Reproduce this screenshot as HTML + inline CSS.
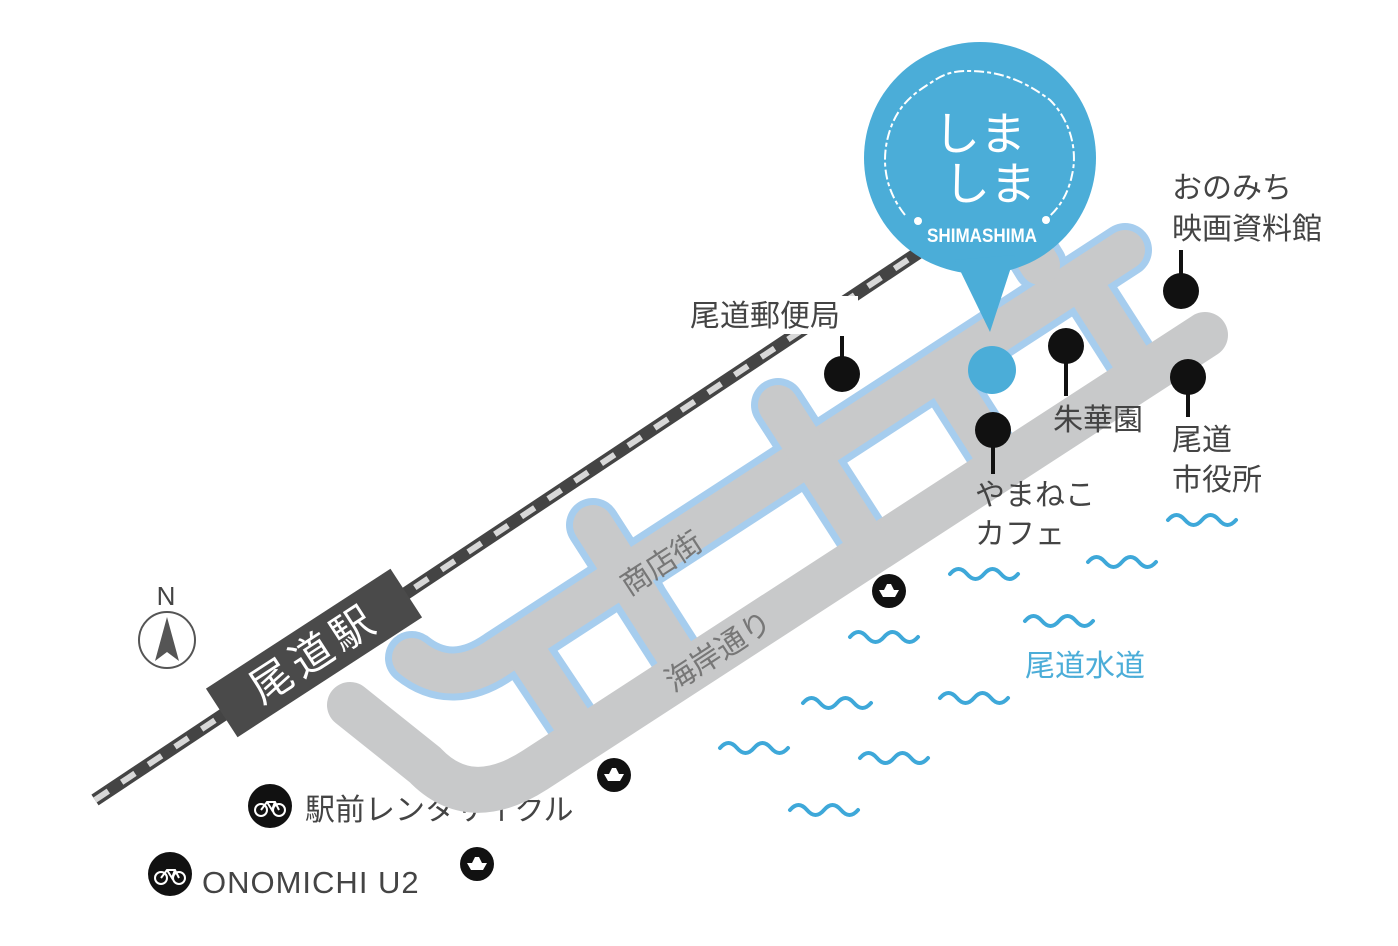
<!DOCTYPE html>
<html><head><meta charset="utf-8"><style>
html,body{margin:0;padding:0;background:#fff;}
svg{display:block;}
text{font-family:"Liberation Sans","Noto Sans CJK JP",sans-serif;}
</style></head><body>
<svg width="1398" height="946" viewBox="0 0 1398 946" xmlns="http://www.w3.org/2000/svg">
<line x1="95" y1="800" x2="918" y2="253" stroke="#444" stroke-width="13"/>
<line x1="95" y1="800" x2="918" y2="253" stroke="#d8d8d8" stroke-width="6" stroke-dasharray="16 16"/>
<g transform="translate(314,653) rotate(-33)">
<rect x="-110" y="-29" width="220" height="58" fill="#4a4a4a"/>
<text x="0" y="15" font-size="42" fill="#fff" text-anchor="middle" letter-spacing="6">尾道駅</text>
</g>
<g fill="#444" font-size="30">
<text x="305" y="820">駅前レンタサイクル</text>
<text x="202" y="893" font-size="31" letter-spacing="1">ONOMICHI U2</text>
</g>
<g fill="none" stroke="#a6cdee" stroke-width="54" stroke-linecap="round" stroke-linejoin="round">
<path d="M1125,250 L500,656 Q452,690 412,658"/>
<path d="M593,525 L640,598"/>
<path d="M778,405 L820,470"/>
<path d="M1040,265 L1022,236"/>
</g>
<g fill="none" stroke="#a6cdee" stroke-width="54" stroke-linecap="butt">
<path d="M593,525 L687,672"/>
<path d="M778,405 L872,551"/>
<path d="M520,643 L584,739"/>
<path d="M940,370 L1002,467"/>
<path d="M1080,279 L1142,376"/>
</g>
<path d="M1205,335 L535,770 Q470,812 425,765 L350,705" fill="none" stroke="#c8c9ca" stroke-width="46" stroke-linecap="round" stroke-linejoin="round"/>
<g fill="none" stroke="#c8c9ca" stroke-width="40" stroke-linecap="round" stroke-linejoin="round">
<path d="M1125,250 L500,656 Q452,690 412,658"/>
<path d="M593,525 L640,598"/>
<path d="M778,405 L820,470"/>
<path d="M1040,265 L1022,236"/>
</g>
<g fill="none" stroke="#c8c9ca" stroke-width="40" stroke-linecap="butt">
<path d="M593,525 L687,672"/>
<path d="M778,405 L872,551"/>
<path d="M520,643 L584,739"/>
<path d="M940,370 L1002,467"/>
<path d="M1080,279 L1142,376"/>
</g>
<text transform="translate(667,572) rotate(-33)" font-size="30" fill="#777" text-anchor="middle">商店街</text>
<text transform="translate(724,660) rotate(-33)" font-size="30" fill="#777" text-anchor="middle">海岸通り</text>
<g fill="none" stroke="#3ea8d9" stroke-width="4" stroke-linecap="round">
<path d="M1168,520 q8.5,-10 17,0 t17,0 t17,0 t17,0"/>
<path d="M1088,562 q8.5,-10 17,0 t17,0 t17,0 t17,0"/>
<path d="M950,574 q8.5,-10 17,0 t17,0 t17,0 t17,0"/>
<path d="M1025,621 q8.5,-10 17,0 t17,0 t17,0 t17,0"/>
<path d="M850,637 q8.5,-10 17,0 t17,0 t17,0 t17,0"/>
<path d="M940,698 q8.5,-10 17,0 t17,0 t17,0 t17,0"/>
<path d="M803,703 q8.5,-10 17,0 t17,0 t17,0 t17,0"/>
<path d="M720,748 q8.5,-10 17,0 t17,0 t17,0 t17,0"/>
<path d="M860,758 q8.5,-10 17,0 t17,0 t17,0 t17,0"/>
<path d="M790,810 q8.5,-10 17,0 t17,0 t17,0 t17,0"/>
</g>
<text x="1025" y="676" font-size="30" fill="#4badd8">尾道水道</text>
<circle cx="980" cy="158" r="116" fill="#4badd8"/>
<path d="M955,260 L990,332 L1015,255 Z" fill="#4badd8"/>
<path d="M905,215 C885,190 880,160 890,130 C900,100 920,90 935,80 C950,70 965,70 985,72 C1010,75 1030,85 1050,100 C1070,120 1078,150 1072,175 C1068,195 1058,210 1045,220" fill="none" stroke="#fff" stroke-width="2" stroke-dasharray="10 3 4 3"/>
<circle cx="918" cy="221" r="4" fill="#fff"/>
<circle cx="1046" cy="220" r="4" fill="#fff"/>
<text x="980" y="150" font-size="46" fill="#fff" text-anchor="middle">しま</text>
<text x="990" y="200" font-size="46" fill="#fff" text-anchor="middle">しま</text>
<text x="982" y="242" font-size="19" fill="#fff" text-anchor="middle" font-weight="bold" textLength="110" lengthAdjust="spacingAndGlyphs">SHIMASHIMA</text>
<circle cx="992" cy="370" r="24" fill="#4badd8"/>
<g stroke="#111" stroke-width="4">
<line x1="842" y1="336" x2="842" y2="374"/>
<line x1="1181" y1="250" x2="1181" y2="291"/>
<line x1="1066" y1="346" x2="1066" y2="396"/>
<line x1="993" y1="430" x2="993" y2="474"/>
<line x1="1188" y1="377" x2="1188" y2="417"/>
</g>
<g fill="#111">
<circle cx="842" cy="374" r="18"/>
<circle cx="1181" cy="291" r="18"/>
<circle cx="1066" cy="346" r="18"/>
<circle cx="993" cy="430" r="18"/>
<circle cx="1188" cy="377" r="18"/>
</g>
<rect x="686" y="296" width="172" height="38" fill="#fff"/>
<g fill="#444" font-size="30">
<text x="690" y="326">尾道郵便局</text>
<text x="1172" y="198">おのみち</text>
<text x="1172" y="239">映画資料館</text>
<text x="1053" y="430">朱華園</text>
<text x="975" y="505">やまねこ</text>
<text x="975" y="544">カフェ</text>
<text x="1172" y="450">尾道</text>
<text x="1172" y="490">市役所</text>
</g>
<g>
<circle cx="889" cy="591" r="17" fill="#111"/>
<path d="M879,590 h20 l-4,7 h-12 z M884,590 l3,-6 h4 l3,6 z" fill="#fff"/>
<circle cx="614" cy="775" r="17" fill="#111"/>
<path d="M604,774 h20 l-4,7 h-12 z M609,774 l3,-6 h4 l3,6 z" fill="#fff"/>
<circle cx="477" cy="864" r="17" fill="#111"/>
<path d="M467,863 h20 l-4,7 h-12 z M472,863 l3,-6 h4 l3,6 z" fill="#fff"/>
</g>
<g>
<circle cx="270" cy="806" r="22" fill="#111"/>
<g fill="none" stroke="#fff" stroke-width="2"><circle cx="261" cy="810" r="6"/><circle cx="279" cy="810" r="6"/><path d="M261,810 l6,-8 h8 l4,8 M267,802 l5,8 l3,-8"/></g>
<circle cx="170" cy="874" r="22" fill="#111"/>
<g fill="none" stroke="#fff" stroke-width="2"><circle cx="161" cy="878" r="6"/><circle cx="179" cy="878" r="6"/><path d="M161,878 l6,-8 h8 l4,8 M167,870 l5,8 l3,-8"/></g>
</g>
<text x="166" y="605" font-size="26" fill="#444" text-anchor="middle">N</text>
<circle cx="167" cy="640" r="28" fill="none" stroke="#555" stroke-width="2"/>
<path d="M167,617 L155,661 L167,652 L179,661 Z" fill="#555"/>
</svg>
</body></html>
